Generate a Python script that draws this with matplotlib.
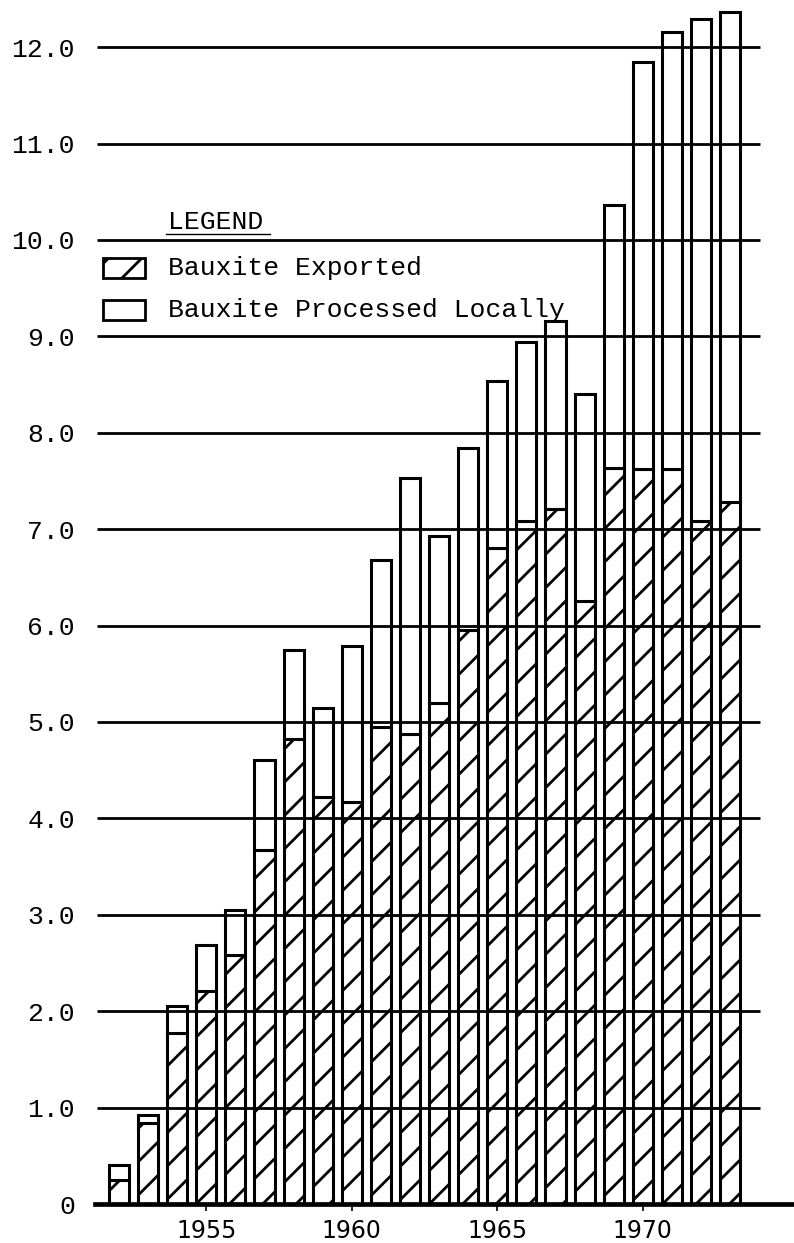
import matplotlib.pyplot as plt
from matplotlib.patches import Rectangle
from matplotlib.lines import Line2D

# bauxite, million tons
years = list(range(1952, 1974))
total = [0.40, 0.92, 2.05, 2.69, 3.05, 4.61, 5.75, 5.15, 5.79, 6.68, 7.53,
         6.93, 7.84, 8.54, 8.94, 9.16, 8.40, 10.36, 11.85, 12.16, 12.29, 12.36]
exported = [0.25, 0.84, 1.77, 2.21, 2.58, 3.67, 4.82, 4.22, 4.17, 4.95, 4.88,
            5.20, 5.95, 6.81, 7.08, 7.21, 6.26, 7.64, 7.62, 7.62, 7.08, 7.28]
processed = [t - e for t, e in zip(total, exported)]

ytick_vals = list(range(0, 13))
ytick_labels = ['0'] + [f'{v:.1f}' for v in ytick_vals[1:]]
xtick_vals = [1955, 1960, 1965, 1970]

W, H, DPI = 794, 1243, 200
MONO = 'Liberation Mono'

plt.rcParams['hatch.linewidth'] = 1.0


def fx(px):
    return px / W


def fy(py):
    return 1 - py / H


fig = plt.figure(figsize=(W / DPI, H / DPI), dpi=DPI)
fig.patch.set_facecolor('white')

ax = fig.add_axes([fx(95), fy(1204), fx(W - 95), 1204 / H])
ax.set_ylim(0, 1204 / 96.4)
ax.set_xlim(1952 - 24 / 29.1, 1952 + (W - 119) / 29.1)

ax.bar(years, exported, width=0.69, color='white', edgecolor='black',
       hatch='//', linewidth=1.1, zorder=2, label='Bauxite Exported')
ax.bar(years, processed, bottom=exported, width=0.69, color='white',
       edgecolor='black', linewidth=1.1, zorder=2,
       label='Bauxite Processed Locally')

# horizontal rules drawn over the bars
ax.hlines(ytick_vals[1:], 0.003, 0.951, transform=ax.get_yaxis_transform(),
          colors='black', linewidth=1.0, zorder=3)

ax.set_yticks(ytick_vals)
ax.set_yticklabels(ytick_labels, fontfamily=MONO, fontsize=9.5)
ax.tick_params(axis='y', length=0, pad=7.2)

ax.set_xticks(xtick_vals)
ax.set_xticklabels([str(y) for y in xtick_vals], fontsize=8.5)
ax.tick_params(axis='x', length=2.5, width=0.6, pad=3, direction='out')

for side in ['left', 'right', 'top']:
    ax.spines[side].set_visible(False)
ax.spines['bottom'].set_linewidth(1.7)
ax.spines['bottom'].set_zorder(4)

# legend, typed by hand on the original
fig.text(fx(168), fy(222), 'LEGEND', fontfamily=MONO, fontsize=9.5,
         va='center', ha='left')
fig.add_artist(Line2D([fx(166), fx(270)], [fy(234), fy(234)],
                      color='black', linewidth=0.5))
fig.add_artist(Rectangle((fx(103), fy(278)), fx(42), 20 / H,
                         facecolor='white', edgecolor='black', hatch='//',
                         linewidth=1.0))
fig.add_artist(Rectangle((fx(103), fy(320)), fx(42), 20 / H,
                         facecolor='white', edgecolor='black', linewidth=1.0))
fig.text(fx(168), fy(268), 'Bauxite Exported', fontfamily=MONO,
         fontsize=9.5, va='center', ha='left')
fig.text(fx(168), fy(310), 'Bauxite Processed Locally', fontfamily=MONO,
         fontsize=9.5, va='center', ha='left')

fig.savefig('out.png', dpi=DPI, facecolor='white')
